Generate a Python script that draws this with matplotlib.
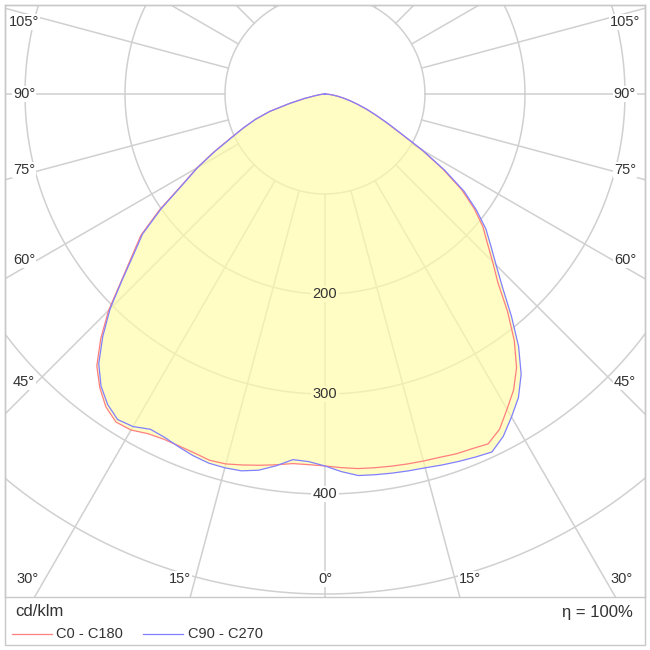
import numpy as np
import matplotlib
matplotlib.use("Agg")
import matplotlib.pyplot as plt
from matplotlib.patches import Rectangle, Polygon
from matplotlib.lines import Line2D

# ---- data (cd/klm) at gamma = 0..90 deg, step 2.5 ----
gamma = [0, 2.5, 5, 7.5, 10, 12.5, 15, 17.5, 20, 22.5, 25, 27.5, 30, 32.5, 35, 37.5,
         40, 42.5, 45, 47.5, 50, 52.5, 55, 57.5, 60, 62.5, 65, 67.5, 70, 72.5, 75,
         77.5, 80, 82.5, 85, 87.5, 90]
c0   = [372, 374, 376, 377, 378, 379, 380, 381, 383, 384, 386, 378, 364, 351, 334, 311,
        284, 256, 237, 220, 206, 188, 167, 140, 112, 85, 68, 55, 44, 34, 26,
        19, 13, 8, 4, 1, 0]
c180 = [372, 371, 371, 374, 377, 380, 383, 384, 382, 381, 381, 383, 388, 389, 382, 370,
        355, 332, 306, 276, 252, 232, 202, 170, 148, 125, 104, 88, 74, 58, 37,
        22, 11, 6, 3, 1, 0]
c90  = [372, 378, 383, 384, 385, 386, 387, 389, 391, 393, 395, 386, 373, 360, 342, 318,
        290, 263, 242, 225, 210, 191, 170, 142, 113, 86, 69, 55, 44, 34, 26,
        19, 13, 8, 4, 1, 0]
c270 = [372, 368, 367, 375, 382, 386, 387, 387, 385, 382, 379, 378, 384, 386, 379, 368,
        352, 329, 304, 275, 250, 230, 200, 169, 147, 124, 103, 88, 74, 58, 37,
        22, 11, 6, 3, 1, 0]

ring_values = [100, 200, 300, 400, 500, 600]
ring_labels = ["200", "300", "400"]
angle_ticks = list(range(0, 181, 15))
series_names = ["C0 - C180", "C90 - C270"]
unit_text = "cd/klm"
eta_text = "η = 100%"

FONT = ["Liberation Sans", "DejaVu Sans"]
plt.rcParams['font.family'] = FONT

W = H = 650
fig = plt.figure(figsize=(6.5, 6.5), dpi=100)
fig.patch.set_facecolor("white")

# axes occupies pixel box x 5..645, y 5..597 (from top)
ax = fig.add_axes([5 / W, (H - 597) / H, 640 / W, 592 / H])
ax.set_xlim(-320, 320)
ax.set_ylim(-503, 89)
ax.set_aspect("equal", adjustable="box")
ax.set_xticks([]); ax.set_yticks([])
for s in ax.spines.values():
    s.set_color("#c8c8c8"); s.set_linewidth(1.0)

g = np.radians(gamma)

def curve(left, right):
    L = np.asarray(left, float); R = np.asarray(right, float)
    xl = -L * np.sin(g); yl = -L * np.cos(g)
    xr = R * np.sin(g); yr = -R * np.cos(g)
    x = np.concatenate([xl[::-1], xr[1:]])
    y = np.concatenate([yl[::-1], yr[1:]])
    return x, y

xa, ya = curve(c180, c0)
xb, yb = curve(c270, c90)
xu, yu = curve(np.maximum(c180, c270), np.maximum(c0, c90))

# grid
grid_kw = dict(color="#d0d0d0", lw=1.1, zorder=1)
t = np.linspace(0, 2 * np.pi, 720)
for r in ring_values:
    ax.plot(r * np.cos(t), r * np.sin(t), **grid_kw)
for a in angle_ticks:
    ar = np.radians(a)
    for sgn in (-1, 1):
        if a in (0, 180) and sgn == 1:
            continue
        ax.plot([sgn * 100 * np.sin(ar), sgn * 900 * np.sin(ar)],
                [-100 * np.cos(ar), -900 * np.cos(ar)], **grid_kw)

ax.add_patch(Polygon(np.column_stack([xu, yu]), closed=True,
                     facecolor="#FFFBA8", alpha=0.68, edgecolor="none", zorder=2))

ax.plot(xa, ya, color="#FF7F7F", lw=0.9, zorder=4)
ax.plot(xb, yb, color="#8080FF", lw=0.9, zorder=4)

# ring labels
for lab, r in zip(ring_labels, [200, 300, 400]):
    inside = r < 372
    ax.text(0, -r, lab, ha="center", va="center", fontsize=10.5, color="#333333",
            zorder=5, bbox=dict(facecolor="#FFFCC4" if inside else "white",
                                edgecolor="none", pad=1.0))

# angle labels (pixel positions of layout)
def px2data(px, py):
    return px - 325, 94 - py

lab_pos = [("105°", 24, 22), ("90°", 24, 94), ("75°", 24, 170), ("60°", 24, 260),
           ("45°", 24, 382), ("30°", 28, 579), ("15°", 180, 579), ("0°", 325, 579),
           ("15°", 470, 579), ("30°", 622, 579), ("45°", 625, 382), ("60°", 625, 260),
           ("75°", 625, 170), ("90°", 625, 94), ("105°", 625, 22)]
for txt, px, py in lab_pos:
    x, y = px2data(px, py)
    ax.text(x, y, txt, ha="center", va="center", fontsize=10.5, color="#333333",
            zorder=5, bbox=dict(facecolor="white", edgecolor="none", pad=0.8))

# outer frame and legend area
fig.add_artist(Rectangle((5 / W, 5 / H), 640 / W, 640 / H, transform=fig.transFigure,
                         fill=False, edgecolor="#c8c8c8", lw=1.0))
fig.text(15 / W, 1 - 612 / H, unit_text, ha="left", va="center", fontsize=12, color="#333333")
fig.text(633 / W, 1 - 612 / H, eta_text, ha="right", va="center", fontsize=12, color="#333333")
fig.add_artist(Line2D([12 / W, 52 / W], [1 - 634 / H] * 2, transform=fig.transFigure,
                      color="#FF7F7F", lw=0.9))
fig.text(56 / W, 1 - 634 / H, series_names[0], ha="left", va="center", fontsize=10.5, color="#333333")
fig.add_artist(Line2D([143 / W, 183 / W], [1 - 634 / H] * 2, transform=fig.transFigure,
                      color="#8080FF", lw=0.9))
fig.text(188 / W, 1 - 634 / H, series_names[1], ha="left", va="center", fontsize=10.5, color="#333333")

fig.savefig("out.png", dpi=100, facecolor="white")
